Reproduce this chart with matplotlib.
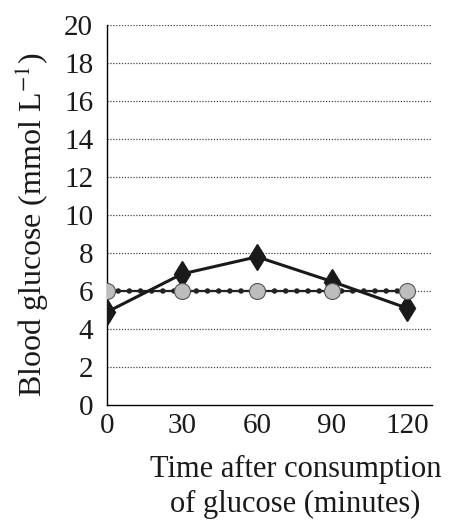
import matplotlib
matplotlib.use('Agg')
import matplotlib.pyplot as plt

# Data
times = [0, 30, 60, 90, 120]
glucose_diamond = [4.9, 6.9, 7.8, 6.5, 5.1]
glucose_circle = [6.0, 6.0, 6.0, 6.0, 6.0]
y_ticks = list(range(0, 21, 2))

plt.rcParams['font.family'] = ['Liberation Serif', 'DejaVu Serif']
plt.rcParams['mathtext.fontset'] = 'stix'

fig = plt.figure(figsize=(4.5, 5.21), dpi=100)
ax = fig.add_axes([0.238, 0.2226, 0.722, 0.7294])

# grid lines
for yv in y_ticks[1:]:
    ax.axhline(yv, color='#444444', linestyle=(0, (1, 1.3)), linewidth=0.9, zorder=1)

# circle series: solid line with round dots along it
ax.plot(times, glucose_circle, color='#222222', linewidth=1.6, zorder=2)
ax.plot(times, glucose_circle, color='#222222', linewidth=4, linestyle=(0, (0.01, 2.0)),
        dash_capstyle='round', zorder=2)
ax.plot(times, glucose_circle, linestyle='none', marker='o', markersize=11.5,
        markerfacecolor='#bdbdbd', markeredgecolor='#555555', markeredgewidth=0.8, zorder=4)

# diamond series
ax.plot(times, glucose_diamond, color='#1a1a1a', linewidth=2.2, marker='d', markersize=13.5,
        markerfacecolor='#1a1a1a', markeredgecolor='#1a1a1a', zorder=3)

ax.set_xlim(0, 130)
ax.set_ylim(0, 20)
ax.set_xticks(times)
ax.set_yticks(y_ticks)
ax.tick_params(axis='both', labelsize=21, colors='#1a1a1a')
ax.tick_params(axis='x', length=0, pad=6)
ax.tick_params(axis='y', length=0, pad=10)
for lab in ax.get_xticklabels() + ax.get_yticklabels():
    lab.set_color('#1a1a1a')

ax.spines['top'].set_visible(False)
ax.spines['right'].set_visible(False)
ax.spines['left'].set_linewidth(1.0)
ax.spines['bottom'].set_linewidth(1.0)

fig.text(0.07, 0.569, 'Blood glucose (mmol L$^{-1}$)', fontsize=23, rotation=90,
         ha='center', va='center', color='#1a1a1a')
fig.text(0.657, 0.004, 'Time after consumption\nof glucose (minutes)', fontsize=22,
         ha='center', va='bottom', color='#1a1a1a', linespacing=1.25)

fig.savefig('out.png', dpi=100)
plt.close(fig)
